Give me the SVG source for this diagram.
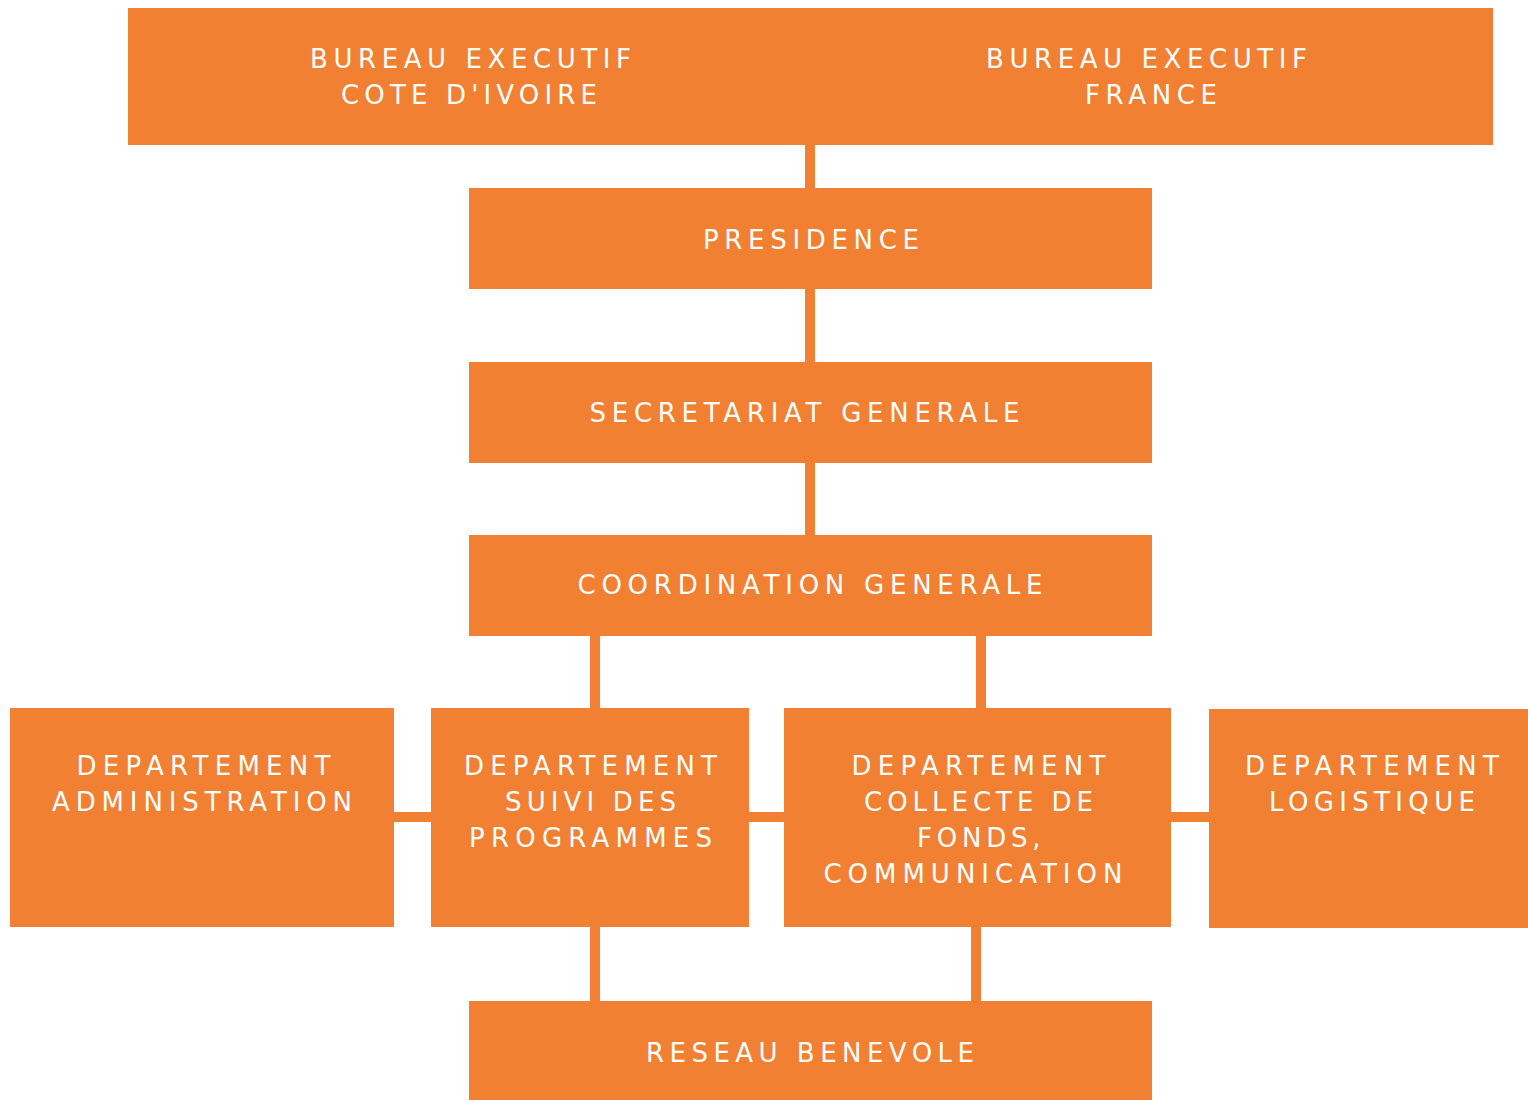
<svg xmlns="http://www.w3.org/2000/svg" width="1528" height="1100" viewBox="0 0 1528 1100">
  <style>
    .box { fill: #F28032; }
    .lbl { fill: #FFFFFF; font-family: "DejaVu Sans", "Open Sans", sans-serif; font-size: 26px; font-weight: normal; }
    .conn { stroke: #F28032; stroke-width: 10; fill: none; }
  </style>
  <rect width="1528" height="1100" fill="#FFFFFF"/>
  <g id="connectors">
    <line class="conn" x1="810" y1="144" x2="810" y2="189"/>
    <line class="conn" x1="810" y1="288" x2="810" y2="363"/>
    <line class="conn" x1="810" y1="462" x2="810" y2="536"/>
    <line class="conn" x1="595" y1="635" x2="595" y2="709"/>
    <line class="conn" x1="981" y1="635" x2="981" y2="709"/>
    <line class="conn" x1="595" y1="926" x2="595" y2="1002"/>
    <line class="conn" x1="976" y1="926" x2="976" y2="1002"/>
    <line class="conn" x1="393" y1="817" x2="432" y2="817"/>
    <line class="conn" x1="748" y1="817" x2="785" y2="817"/>
    <line class="conn" x1="1170" y1="817" x2="1210" y2="817"/>
  </g>
  <g id="bureau-ci">
    <rect class="box" x="128" y="8" width="683" height="137"/>
    <text class="lbl" x="310" y="68" textLength="321" lengthAdjust="spacing">BUREAU EXECUTIF</text>
    <text class="lbl" x="341" y="104" textLength="256" lengthAdjust="spacing">COTE D'IVOIRE</text>
  </g>
  <g id="bureau-fr">
    <rect class="box" x="810" y="8" width="683" height="137"/>
    <text class="lbl" x="986" y="68" textLength="321" lengthAdjust="spacing">BUREAU EXECUTIF</text>
    <text class="lbl" x="1085" y="104" textLength="132" lengthAdjust="spacing">FRANCE</text>
  </g>
  <g id="presidence">
    <rect class="box" x="469" y="188" width="683" height="101"/>
    <text class="lbl" x="703" y="249" textLength="216" lengthAdjust="spacing">PRESIDENCE</text>
  </g>
  <g id="secretariat">
    <rect class="box" x="469" y="362" width="683" height="101"/>
    <text class="lbl" x="589.5" y="422" textLength="430" lengthAdjust="spacing">SECRETARIAT GENERALE</text>
  </g>
  <g id="coordination">
    <rect class="box" x="469" y="535" width="683" height="101"/>
    <text class="lbl" x="577.5" y="594" textLength="465" lengthAdjust="spacing">COORDINATION GENERALE</text>
  </g>
  <g id="dept-admin">
    <rect class="box" x="10" y="708" width="384" height="219"/>
    <text class="lbl" x="76.5" y="775" textLength="254" lengthAdjust="spacing">DEPARTEMENT</text>
    <text class="lbl" x="52" y="811" textLength="300" lengthAdjust="spacing">ADMINISTRATION</text>
  </g>
  <g id="dept-suivi">
    <rect class="box" x="431" y="708" width="318" height="219"/>
    <text class="lbl" x="464" y="775" textLength="253" lengthAdjust="spacing">DEPARTEMENT</text>
    <text class="lbl" x="505" y="811" textLength="171" lengthAdjust="spacing">SUIVI DES</text>
    <text class="lbl" x="469" y="847" textLength="243" lengthAdjust="spacing">PROGRAMMES</text>
  </g>
  <g id="dept-collecte">
    <rect class="box" x="784" y="708" width="387" height="219"/>
    <text class="lbl" x="851.5" y="775" textLength="254" lengthAdjust="spacing">DEPARTEMENT</text>
    <text class="lbl" x="864" y="811" textLength="229" lengthAdjust="spacing">COLLECTE DE</text>
    <text class="lbl" x="917" y="847" textLength="123.5" lengthAdjust="spacing">FONDS,</text>
    <text class="lbl" x="823.4" y="883" textLength="299" lengthAdjust="spacing">COMMUNICATION</text>
  </g>
  <g id="dept-logistique">
    <rect class="box" x="1209" y="709" width="319" height="219"/>
    <text class="lbl" x="1245" y="775" textLength="254" lengthAdjust="spacing">DEPARTEMENT</text>
    <text class="lbl" x="1269" y="811" textLength="206" lengthAdjust="spacing">LOGISTIQUE</text>
  </g>
  <g id="reseau">
    <rect class="box" x="469" y="1001" width="683" height="99"/>
    <text class="lbl" x="646" y="1062" textLength="328" lengthAdjust="spacing">RESEAU BENEVOLE</text>
  </g>
</svg>
